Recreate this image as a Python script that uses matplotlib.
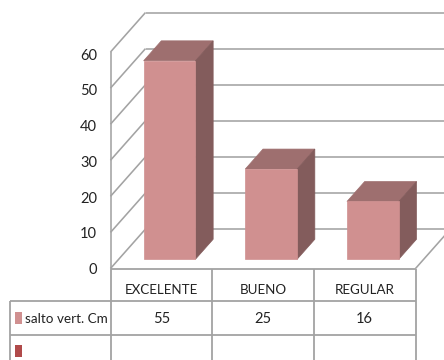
import matplotlib
matplotlib.use("Agg")
import matplotlib.pyplot as plt
from matplotlib.patches import Polygon, Rectangle

categories = ["EXCELENTE", "BUENO", "REGULAR"]
salto_vert = [55, 25, 16]
series_name = "salto vert. Cm"
y_ticks = [0, 10, 20, 30, 40, 50, 60]

FONT = ["Lato", "DejaVu Sans"]
TEXT = "#222222"
GRID = "#a3a3a3"
FRONT, TOP, SIDE = "#d09090", "#9e6f6f", "#835c5c"
SWATCH_1, SWATCH_2 = "#d09090", "#b04a4a"

# Scale of the front plane: one category and one value unit, in pixels
W, H = 444, 360
X0, Y0 = 110.5, 268.5
CAT_PX = 101.67
VAL_PX = 3.608
# Oblique depth of the floor, in data units
DEPTH_X = 35 / CAT_PX
DEPTH_Y = 39.5 / VAL_PX
BAR_WIDTH = 0.51
BAR_NEAR, BAR_FAR = 0.235, 0.74

fig = plt.figure(figsize=(W / 100, H / 100), dpi=100, facecolor="white")
ax = fig.add_axes([0, 0, 1, 1])
ax.set_xlim(-X0 / CAT_PX, (W - X0) / CAT_PX)
ax.set_ylim((Y0 - H) / VAL_PX, Y0 / VAL_PX)
ax.axis("off")


def project(x, y, d=0.0):
    """Oblique projection of a point at fractional depth d."""
    return x + d * DEPTH_X, y + d * DEPTH_Y


def line(p, q, lw=1.15, z=1):
    ax.plot([p[0], q[0]], [p[1], q[1]], color=GRID, lw=lw, zorder=z,
            solid_capstyle="butt")


# Walls and floor
top_val = y_ticks[-1]
n = len(categories)
line(project(0, 0), project(0, top_val))
for v in y_ticks:
    line(project(0, v), project(0, v, 1))
    line(project(0, v, 1), project(n + 1, v, 1))
line(project(n, 0), project(n, 0, 1))

# Bars: front, top and side faces
for i, v in enumerate(salto_vert):
    left, right = i + 0.5 - BAR_WIDTH / 2, i + 0.5 + BAR_WIDTH / 2
    faces = [
        (TOP, [project(left, v, BAR_NEAR), project(right, v, BAR_NEAR),
               project(right, v, BAR_FAR), project(left, v, BAR_FAR)]),
        (SIDE, [project(right, 0, BAR_NEAR), project(right, v, BAR_NEAR),
                project(right, v, BAR_FAR), project(right, 0, BAR_FAR)]),
        (FRONT, [project(left, 0, BAR_NEAR), project(right, 0, BAR_NEAR),
                 project(right, v, BAR_NEAR), project(left, v, BAR_NEAR)]),
    ]
    for color, pts in faces:
        ax.add_patch(Polygon(pts, closed=True, facecolor=color,
                             edgecolor=color, lw=0.5, zorder=3))

# Value axis labels sit slightly below their gridlines, more so further up
for v in y_ticks:
    ax.text(-13.5 / CAT_PX, v * 0.99 - 0.4, str(v), ha="right", va="center",
            fontsize=10.5, family=FONT, color=TEXT, zorder=5)

# Data table below the plot
row_y = [0, -32.2 / VAL_PX, -66.5 / VAL_PX]
table_left = -101 / CAT_PX
bottom = (Y0 - H) / VAL_PX
line((0, row_y[0]), (n, row_y[0]), lw=1.3, z=4)
for y in row_y[1:]:
    line((table_left, y), (n, y), lw=1.3, z=4)
line((table_left, row_y[1]), (table_left, bottom), lw=1.3, z=4)
for i in range(n + 1):
    line((i, 0), (i, bottom), lw=1.3, z=4)

for i, (name, v) in enumerate(zip(categories, salto_vert)):
    ax.text(i + 0.5, row_y[0] - 21.5 / VAL_PX, name, ha="center", va="center",
            fontsize=9.6, family=FONT, color=TEXT, zorder=5)
    ax.text(i + 0.5, row_y[1] - 18.5 / VAL_PX, str(v), ha="center", va="center",
            fontsize=10.5, family=FONT, color=TEXT, zorder=5)

# Legend keys held in the table's first column
swatch_x = -95.5 / CAT_PX
swatch_w = 7.5 / CAT_PX
swatch_h = 12.3 / VAL_PX
ax.add_patch(Rectangle((swatch_x, -55.5 / VAL_PX), swatch_w, swatch_h,
                       facecolor=SWATCH_1, edgecolor="none", zorder=5))
ax.add_patch(Rectangle((swatch_x, -88.5 / VAL_PX), swatch_w, swatch_h,
                       facecolor=SWATCH_2, edgecolor="none", zorder=5))
ax.text(-86 / CAT_PX, row_y[1] - 18.5 / VAL_PX, series_name, ha="left", va="center",
        fontsize=9.7, family=FONT, color=TEXT, zorder=5)

fig.savefig("out.png", dpi=100, facecolor="white")
